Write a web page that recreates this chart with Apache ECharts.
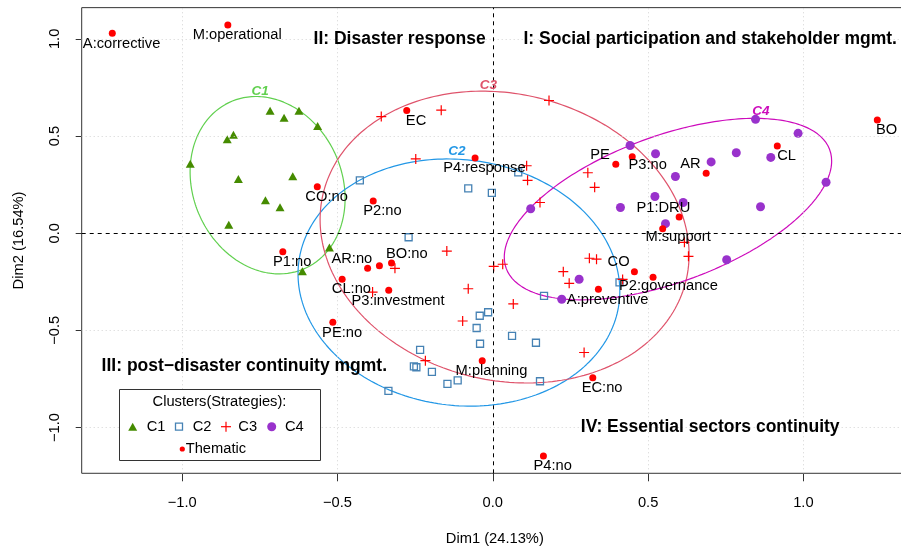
<!DOCTYPE html>
<html>
<head>
<meta charset="utf-8">
<script src="https://cdn.jsdelivr.net/npm/echarts@6/dist/echarts.min.js"></script>
<style>
  html, body { margin: 0; padding: 0; background: #fff; }
  #chart { width: 901px; height: 548px; }
</style>
</head>
<body>
<div id="chart"></div>
<script>
// ---- Cluster members (Dim1 / Dim2 coordinates) ----
const c1X = [-0.717, -0.624, -0.672, -0.564, -0.835, -0.855, -0.974, -0.819, -0.644, -0.732, -0.685, -0.850, -0.526, -0.613];
const c1Y = [0.630, 0.630, 0.594, 0.552, 0.507, 0.483, 0.358, 0.279, 0.293, 0.169, 0.133, 0.044, -0.074, -0.196];

const c2X = [-0.428, -0.271, -0.079, -0.003, 0.082, 0.408, 0.165, -0.015, -0.042, -0.052, 0.062, -0.041, 0.139, 0.152, -0.234, -0.254, -0.246, -0.196, -0.113, -0.146, -0.336];
const c2Y = [0.272, -0.021, 0.231, 0.207, 0.313, -0.253, -0.323, -0.407, -0.425, -0.488, -0.529, -0.569, -0.564, -0.762, -0.601, -0.685, -0.690, -0.714, -0.758, -0.776, -0.812];

const c3X = [-0.359, -0.166, 0.181, -0.248, 0.109, 0.112, 0.152, 0.306, 0.328, -0.148, -0.315, -0.387, -0.079, -0.097, -0.217, 0.003, 0.032, 0.311, 0.334, 0.227, 0.246, 0.066, 0.294, 0.418, 0.617, 0.630];
const c3Y = [0.600, 0.633, 0.683, 0.382, 0.347, 0.272, 0.158, 0.311, 0.236, -0.092, -0.181, -0.303, -0.286, -0.452, -0.656, -0.171, -0.160, -0.129, -0.134, -0.198, -0.258, -0.364, -0.614, -0.238, -0.047, -0.119];

const c4X = [0.442, 0.524, 0.588, 0.703, 0.784, 0.895, 0.846, 0.983, 1.073, 0.122, 0.411, 0.522, 0.613, 0.862, 0.556, 0.753, 0.278, 0.222];
const c4Y = [0.451, 0.409, 0.292, 0.367, 0.414, 0.390, 0.586, 0.514, 0.262, 0.126, 0.132, 0.189, 0.158, 0.136, 0.049, -0.137, -0.237, -0.340];

// ---- Thematic (supplementary) categories ----
const themNames = ['A:corrective', 'M:operational', 'EC', 'P4:response', 'CO:no', 'P2:no', 'P1:no', 'AR:no', '', 'BO:no',
  'CL:no', 'P3:investment', 'PE:no', 'M:planning', 'EC:no', 'P4:no', 'A:preventive', 'CO', 'P2:governance', 'M:support',
  'P1:DRU', 'P3:no', 'PE', 'AR', 'CL', 'BO'];
const themX = [-1.225, -0.853, -0.277, -0.057, -0.565, -0.385, -0.676, -0.403, -0.365, -0.326,
  -0.485, -0.335, -0.515, -0.034, 0.322, 0.163, 0.340, 0.456, 0.516, 0.547,
  0.600, 0.449, 0.396, 0.687, 0.916, 1.238];
const themY = [1.029, 1.072, 0.631, 0.387, 0.239, 0.166, -0.095, -0.181, -0.167, -0.153,
  -0.237, -0.294, -0.459, -0.656, -0.744, -1.147, -0.289, -0.198, -0.227, 0.023,
  0.083, 0.394, 0.355, 0.308, 0.449, 0.583];

// ---- Cluster concentration ellipses: centre, half extents, skew (sine of phase) ----
const ellNames = ['C1', 'C2', 'C3', 'C4'];
const ellCX = [-0.725, -0.109, 0.038, 0.564];
const ellCY = [0.247, -0.254, -0.020, 0.124];
const ellRX = [0.2495, 0.518, 0.594, 0.527];
const ellRY = [0.4565, 0.636, 0.751, 0.467];
const ellSkew = [-0.15, -0.07, -0.12, 0.53];
const ellLabelX = [-0.749, -0.116, -0.014, 0.863];
const ellLabelY = [0.731, 0.419, 0.763, 0.625];

// ---- Quadrant captions ----
const quadText = ['I: Social participation and stakeholder mgmt.', 'II: Disaster response',
  'III: post\u2212disaster continuity mgmt.', 'IV: Essential sectors continuity'];
const quadX = [0.7, -0.3, -0.8, 0.7];
const quadY = [1.0, 1.0, -0.687, -1.0];

// ---- Axis ticks ----
const xTicks = [-1, -0.5, 0, 0.5, 1];
const yTicks = [-1, -0.5, 0, 0.5, 1];

// Label placement around each thematic point (layout only)
const placeOffset = {
  below: [9.3, 10.2],
  belowRight: [15.4, 8.7],
  aboveLeft: [-15.8, -9.4],
  aboveRight: [15.3, -9]
};
const labelPlace = {
  'P3:no': 'belowRight', 'P2:governance': 'belowRight', 'M:support': 'belowRight',
  'PE': 'aboveLeft', 'AR': 'aboveLeft', 'CO': 'aboveLeft', 'P1:DRU': 'aboveLeft', 'AR:no': 'aboveLeft',
  'BO:no': 'aboveRight'
};

const FONT = '"Liberation Sans", Arial, Helvetica, sans-serif';
const ellColors = ['#61D04F', '#2297E6', '#DF536B', '#CD0BBC'];
const COL_C1 = '#458B00', COL_C2 = '#4682B4', COL_C3 = '#FF0000', COL_C4 = '#9932CC', COL_TH = '#FF0000';
const PLUS = 'path://M0,5L10,5M5,0L5,10';
const TH_SIZE = 7;

// axis extent: data range widened by 4% on each side
const allX = themX.concat(c1X, c2X, c3X, c4X);
const allY = themY.concat(c1Y, c2Y, c3Y, c4Y);
function padRange(v) {
  const lo = Math.min.apply(null, v), hi = Math.max.apply(null, v);
  const p = 0.04 * (hi - lo);
  return [lo - p, hi + p];
}
const [xMin, xMax] = padRange(allX);
const [yMin, yMax] = padRange(allY);

const zip = (xs, ys) => xs.map((x, i) => [x, ys[i]]);
const minus = v => (v === 0 ? '0.0' : v.toFixed(1).replace('-', '\u2212'));

function ellipseLine(i) {
  const phi = Math.asin(ellSkew[i]);
  const pts = [];
  for (let k = 0; k <= 240; k++) {
    const t = (k / 240) * 2 * Math.PI;
    pts.push([ellCX[i] + ellRX[i] * Math.cos(t), ellCY[i] + ellRY[i] * Math.sin(t + phi)]);
  }
  return pts;
}

const series = [];

// reference lines: light dotted grid and dashed zero axes
series.push({
  type: 'line', data: [], silent: true,
  markLine: {
    silent: true, symbol: ['none', 'none'], label: { show: false },
    lineStyle: { color: '#d3d3d3', type: [1, 3], width: 1 },
    data: xTicks.filter(v => v !== 0).map(v => ({ xAxis: v }))
      .concat(yTicks.filter(v => v !== 0).map(v => ({ yAxis: v })))
  }
});
series.push({
  type: 'line', data: [], silent: true,
  markLine: {
    silent: true, symbol: ['none', 'none'], label: { show: false },
    lineStyle: { color: '#000', type: [4, 4], width: 1 },
    data: [{ xAxis: 0 }, { yAxis: 0 }]
  }
});

ellNames.forEach((n, i) => {
  series.push({
    type: 'line', name: 'ellipse ' + n, data: ellipseLine(i), showSymbol: false, silent: true,
    lineStyle: { color: ellColors[i], width: 1.2 }, z: 3
  });
});

series.push({
  type: 'scatter', name: 'C1', data: zip(c1X, c1Y), symbol: 'triangle', symbolSize: [9, 8],
  itemStyle: { color: COL_C1, opacity: 1 }, z: 4
});
series.push({
  type: 'scatter', name: 'C2', data: zip(c2X, c2Y), symbol: 'rect', symbolSize: 7,
  itemStyle: { color: 'rgba(0,0,0,0)', borderColor: COL_C2, borderWidth: 1.3, opacity: 1 }, z: 4
});
series.push({
  type: 'scatter', name: 'C3', data: zip(c3X, c3Y), symbol: PLUS, symbolSize: 10,
  itemStyle: { color: 'rgba(0,0,0,0)', borderColor: COL_C3, borderWidth: 1.2, opacity: 1 }, z: 4
});
series.push({
  type: 'scatter', name: 'C4', data: zip(c4X, c4Y), symbol: 'circle', symbolSize: 9,
  itemStyle: { color: COL_C4, opacity: 1 }, z: 4
});

series.push({
  type: 'scatter', name: 'Thematic', symbol: 'circle', symbolSize: TH_SIZE,
  itemStyle: { color: COL_TH, opacity: 1 }, z: 5,
  data: themNames.map((n, i) => {
    const off = placeOffset[labelPlace[n] || 'below'];
    return {
      name: n, value: [themX[i], themY[i]],
      label: {
        show: true, position: [TH_SIZE / 2 + off[0], TH_SIZE / 2 + off[1]],
        formatter: '{b}', color: '#000', fontSize: 14.7, fontFamily: FONT,
        align: 'center', verticalAlign: 'middle'
      }
    };
  }),
  labelLayout: { hideOverlap: false }
});

// ellipse captions
series.push({
  type: 'scatter', silent: true, symbolSize: 1, z: 6,
  itemStyle: { color: 'rgba(0,0,0,0)', opacity: 1 },
  data: ellNames.map((n, i) => ({
    name: n, value: [ellLabelX[i], ellLabelY[i]],
    label: { color: ellColors[i] }
  })),
  label: {
    show: true, position: 'inside', formatter: '{b}',
    fontSize: 13.5, fontStyle: 'italic', fontWeight: 'bold', fontFamily: FONT,
    align: 'center', verticalAlign: 'middle'
  }
});

// quadrant captions
series.push({
  type: 'scatter', silent: true, symbolSize: 1, z: 6,
  itemStyle: { color: 'rgba(0,0,0,0)', opacity: 1 },
  data: quadText.map((t, i) => ({ name: t, value: [quadX[i], quadY[i]] })),
  label: {
    show: true, position: 'inside', formatter: '{b}',
    fontSize: 17.5, fontWeight: 'bold', fontFamily: FONT, color: '#000',
    align: 'center', verticalAlign: 'middle'
  }
});

// legend box
const LX = 119.5, LY = 389.5, LW = 201, LH = 71;
const rowY = 426.7;
const legend = [
  { type: 'rect', shape: { x: LX, y: LY, width: LW, height: LH }, style: { fill: '#fff', stroke: '#333', lineWidth: 1 } },
  { type: 'text', style: { text: 'Clusters(Strategies):', x: 219.5, y: 401.7, align: 'center', verticalAlign: 'middle', font: '14.7px ' + FONT, fill: '#000' } },
  { type: 'polygon', shape: { points: [[128.2, 430.7], [137.2, 430.7], [132.7, 422.7]] }, style: { fill: COL_C1 } },
  { type: 'text', style: { text: 'C1', x: 146.7, y: rowY, align: 'left', verticalAlign: 'middle', font: '14.7px ' + FONT, fill: '#000' } },
  { type: 'rect', shape: { x: 175.5, y: rowY - 3.5, width: 7, height: 7 }, style: { fill: 'none', stroke: COL_C2, lineWidth: 1.3 } },
  { type: 'text', style: { text: 'C2', x: 192.7, y: rowY, align: 'left', verticalAlign: 'middle', font: '14.7px ' + FONT, fill: '#000' } },
  { type: 'line', shape: { x1: 221, y1: rowY, x2: 231, y2: rowY }, style: { stroke: COL_C3, lineWidth: 1.2 } },
  { type: 'line', shape: { x1: 226, y1: rowY - 5, x2: 226, y2: rowY + 5 }, style: { stroke: COL_C3, lineWidth: 1.2 } },
  { type: 'text', style: { text: 'C3', x: 238.3, y: rowY, align: 'left', verticalAlign: 'middle', font: '14.7px ' + FONT, fill: '#000' } },
  { type: 'circle', shape: { cx: 271.7, cy: rowY, r: 4.5 }, style: { fill: COL_C4 } },
  { type: 'text', style: { text: 'C4', x: 285, y: rowY, align: 'left', verticalAlign: 'middle', font: '14.7px ' + FONT, fill: '#000' } },
  { type: 'circle', shape: { cx: 182.3, cy: 449, r: 2.6 }, style: { fill: COL_TH } },
  { type: 'text', style: { text: 'Thematic', x: 185.7, y: 449, align: 'left', verticalAlign: 'middle', font: '14.7px ' + FONT, fill: '#000' } }
].map(g => Object.assign({ z: 100, silent: true }, g));

const chart = echarts.init(document.getElementById('chart'), null, { renderer: 'canvas' });

// pixel frame of the plotting region (extends past the right edge of the canvas)
const gridLeft = 81.7, gridTop = 7.65;
const pxPerX = 310.6, pxPerY = 194.3;
const gridW = (xMax - xMin) * pxPerX, gridH = (yMax - yMin) * pxPerY;

chart.setOption({
  animation: false,
  backgroundColor: '#fff',
  textStyle: { fontFamily: FONT },
  grid: {
    left: gridLeft, top: gridTop, width: gridW, height: gridH,
    outerBoundsMode: 'none',
    show: true, borderColor: '#333', borderWidth: 1, backgroundColor: 'transparent', containLabel: false
  },
  xAxis: {
    type: 'value', min: xMin, max: xMax,
    axisLine: { show: false, onZero: false },
    splitLine: { show: false },
    axisTick: { show: true, customValues: xTicks, length: 8, lineStyle: { color: '#333' } },
    axisLabel: { customValues: xTicks, formatter: minus, margin: 22, fontSize: 14.7, lineHeight: 16, color: '#000', fontFamily: FONT },
    name: 'Dim1 (24.13%)', nameLocation: 'middle', nameGap: 58,
    nameTextStyle: { fontSize: 14.7, color: '#000', fontFamily: FONT, lineHeight: 16 }
  },
  yAxis: {
    type: 'value', min: yMin, max: yMax,
    axisLine: { show: false, onZero: false },
    splitLine: { show: false },
    axisTick: { show: true, customValues: yTicks, length: 6, lineStyle: { color: '#333' } },
    axisLabel: { customValues: yTicks, formatter: minus, rotate: 90, margin: 19, fontSize: 14.7, lineHeight: 16, color: '#000', fontFamily: FONT },
    name: 'Dim2 (16.54%)', nameLocation: 'middle', nameGap: 55, nameRotate: 90,
    nameTextStyle: { fontSize: 14.7, color: '#000', fontFamily: FONT, lineHeight: 16 }
  },
  series: series,
  graphic: legend
});
</script>
</body>
</html>
